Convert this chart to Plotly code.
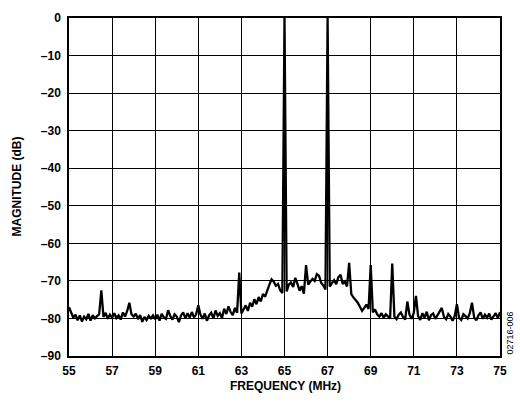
import numpy as np
import plotly.graph_objects as go

# Frequency axis (MHz), 0.1 MHz steps from 55.0 to 75.0
freq_start = 55.0
freq_step = 0.1

magnitude_db = [
    # 55.0 - 55.9
    -77.0, -78.5, -79.8, -79.0, -80.5, -79.2, -80.8, -79.5, -80.2, -78.8,
    # 56.0 - 56.9
    -80.6, -79.1, -80.0, -79.4, -78.9, -72.5, -79.6, -78.5, -80.1, -79.0,
    # 57.0 - 57.9
    -79.8, -78.6, -79.9, -79.2, -80.3, -78.4, -79.5, -78.0, -75.8, -78.9,
    # 58.0 - 58.9
    -79.5, -78.7, -80.2, -79.1, -80.9, -79.6, -80.4, -79.3, -80.0, -79.2,
    # 59.0 - 59.9
    -80.2, -79.0, -80.6, -78.8, -79.7, -80.1, -77.8, -79.4, -80.3, -78.9,
    # 60.0 - 60.9
    -79.5, -81.0, -79.2, -78.4, -80.0, -78.6, -79.8, -78.3, -79.7, -78.9,
    # 61.0 - 61.9
    -76.5, -79.0, -80.1, -78.7, -80.6, -79.2, -78.5, -80.0, -77.9, -79.3,
    # 62.0 - 62.9
    -78.6, -79.9, -77.4, -78.8, -76.8, -78.3, -79.1, -77.2, -78.5, -67.8,
    # 63.0 - 63.9
    -78.7, -77.6, -76.5, -78.0, -75.8, -76.9, -74.9, -76.2, -74.3, -75.5,
    # 64.0 - 64.9
    -73.5, -74.2, -72.4, -71.0, -69.6, -70.2, -71.3, -70.8, -72.5, -73.2,
    # 65.0 - 65.9
    0.0, -72.8, -71.0, -70.4, -71.6, -69.2, -70.8, -72.6, -71.4, -73.4,
    # 66.0 - 66.9
    -65.8, -71.0, -70.2, -69.5, -70.0, -68.2, -68.6, -70.5, -71.2, -72.3,
    # 67.0 - 67.9
    0.0, -71.5, -70.6, -69.8, -70.9, -69.0, -68.4, -70.8, -70.2, -71.5,
    # 68.0 - 68.9
    -65.2, -73.5, -74.4, -75.0, -75.8, -76.9, -78.0, -77.2, -76.3, -77.5,
    # 69.0 - 69.9
    -65.8, -78.4, -77.6, -78.9, -79.5, -78.6, -79.8, -78.9, -79.6, -80.0,
    # 70.0 - 70.9
    -65.4, -79.5, -80.2, -79.0, -78.4, -79.6, -80.3, -75.5, -79.0, -80.1,
    # 71.0 - 71.9
    -78.5, -74.0, -79.4, -80.4, -78.6, -79.8, -78.2, -80.5, -79.1, -78.7,
    # 72.0 - 72.9
    -80.1, -79.0, -78.3, -77.2, -79.6, -80.2, -78.8, -79.5, -80.6, -79.3,
    # 73.0 - 73.9
    -76.2, -79.8, -80.4, -78.9, -79.4, -80.0, -78.6, -75.8, -79.7, -80.5,
    # 74.0 - 74.9
    -79.2, -78.4, -80.1, -79.0, -79.8, -78.7, -80.3, -79.4, -78.6, -79.9,
    # 75.0
    -78.3,
]

x_ticks = [55, 57, 59, 61, 63, 65, 67, 69, 71, 73, 75]
x_ticktext = ["<b>%d</b>" % v for v in x_ticks]
y_ticks = [0, -10, -20, -30, -40, -50, -60, -70, -80, -90]
y_ticktext = ["<b>0</b>" if v == 0 else "<b>\u2013" + str(-v) + "</b>" for v in y_ticks]

freq = freq_start + freq_step * np.arange(len(magnitude_db))

FONT = "Liberation Sans, Arial, sans-serif"

fig = go.Figure()
fig.add_trace(go.Scatter(
    x=freq, y=magnitude_db, mode="lines",
    line=dict(color="black", width=2.3),
    showlegend=False, hoverinfo="skip",
))

fig.update_layout(
    width=520, height=402,
    margin=dict(l=69, r=20, t=11, b=46),
    paper_bgcolor="white", plot_bgcolor="white",
    font=dict(family=FONT, size=11, color="black"),
    xaxis=dict(
        range=[55, 75], tickvals=x_ticks, ticktext=x_ticktext,
        showgrid=True, gridcolor="black", gridwidth=1,
        showline=True, linecolor="black", linewidth=1.5, mirror=True,
        ticks="outside", ticklen=3, tickcolor="white",
        tickfont=dict(family=FONT, size=12, color="black"),
        zeroline=False,
    ),
    yaxis=dict(
        range=[-90, 0], tickvals=y_ticks, ticktext=y_ticktext,
        showgrid=True, gridcolor="black", gridwidth=1,
        showline=True, linecolor="black", linewidth=1.5, mirror=True,
        ticks="outside", ticklen=4, tickcolor="white",
        tickfont=dict(family=FONT, size=12, color="black"),
        zeroline=False,
    ),
)

# Place texts using pixel positions converted to paper coords
pa_left, pa_right, pa_top, pa_bottom = 69, 500, 11, 356
def px_to_paper_x(px):
    return (px - pa_left) / (pa_right - pa_left)
def px_to_paper_y(py):
    return (pa_bottom - py) / (pa_bottom - pa_top)

fig.add_annotation(
    text="<b>FREQUENCY (MHz)</b>", x=px_to_paper_x(285), y=px_to_paper_y(387),
    xref="paper", yref="paper", xanchor="center", yanchor="middle",
    showarrow=False, font=dict(family=FONT, size=12, color="black"),
)
fig.add_annotation(
    text="<b>MAGNITUDE (dB)</b>", x=px_to_paper_x(17), y=px_to_paper_y(183),
    xref="paper", yref="paper", xanchor="center", yanchor="middle",
    showarrow=False, textangle=-90,
    font=dict(family=FONT, size=12, color="black"),
)
fig.add_annotation(
    text="02716-006", x=px_to_paper_x(510), y=px_to_paper_y(333),
    xref="paper", yref="paper", xanchor="center", yanchor="middle",
    showarrow=False, textangle=-90,
    font=dict(family=FONT, size=9, color="black"),
)

fig.write_html("out.html")
